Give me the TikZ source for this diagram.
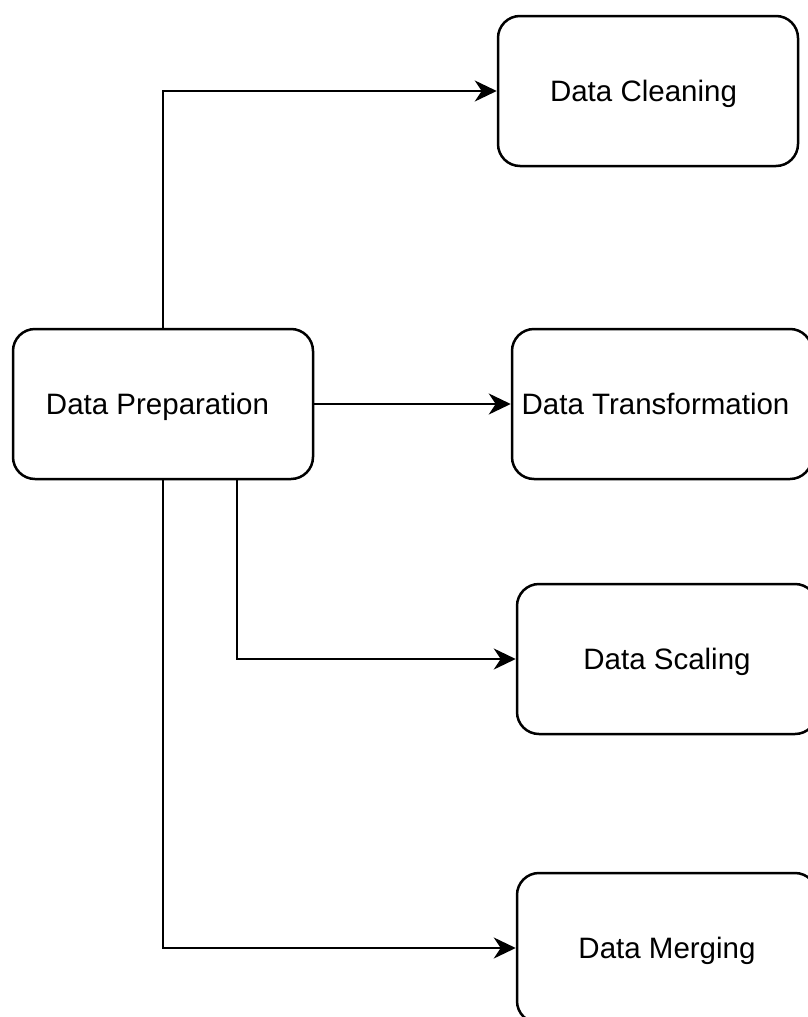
\documentclass[tikz,border=0pt]{standalone}
\usepackage{fontspec}
\setmainfont{Liberation Sans}
\usetikzlibrary{arrows.meta}

\tikzset{
  procbox/.style={draw=black, line width=2.5pt, rounded corners=22pt,
    minimum width=300pt, minimum height=150pt, inner sep=0pt,
    text height=21pt, text depth=0pt,
    font=\fontsize{29.5}{35}\selectfont, text=black, fill=white},
  link/.style={draw=black, line width=2.5pt,
    -{Stealth[length=22pt,width=21pt,inset=7pt]}}
}
% label centred on the box, optionally nudged sideways by half of #1
\newcommand{\boxlabel}[2][0pt]{\makebox[0pt]{\hspace*{#1}#2}}

\begin{document}
\begin{tikzpicture}[x=1pt, y=-1pt]
  \useasboundingbox (0,0) rectangle (808,1017);
  \clip (0,0) rectangle (808,1017);
  \fill[white] (0,0) rectangle (808,1017);

  % stages
  \node[procbox] (prep)  at (163,404) {\boxlabel[-11pt]{Data Preparation}};
  \node[procbox] (clean) at (648,91)  {\boxlabel[-9pt]{Data Cleaning}};
  \node[procbox] (trans) at (662,404) {\boxlabel[-13pt]{Data Transformation}};
  \node[procbox] (scale) at (667,659) {\boxlabel{Data Scaling}};
  \node[procbox] (merge) at (667,948) {\boxlabel{Data Merging}};

  % connectors from the preparation stage
  \draw[link] (prep.north) |- (clean.west);
  \draw[link] (prep.east) -- (trans.west);
  \draw[link] ([xshift=74pt]prep.south) |- (scale.west);
  \draw[link] (prep.south) |- (merge.west);
\end{tikzpicture}
\end{document}
